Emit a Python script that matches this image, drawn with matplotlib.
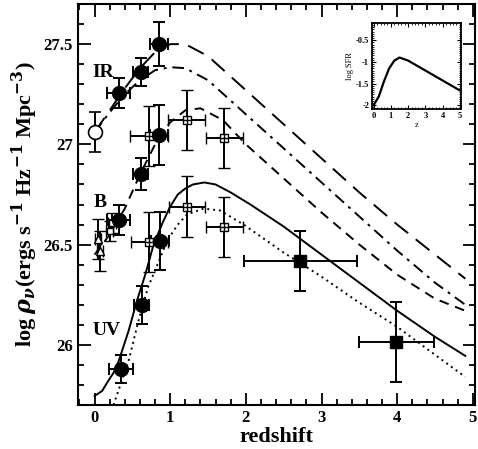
import matplotlib
matplotlib.use('Agg')
import matplotlib.pyplot as plt

plt.rcParams['font.family'] = ['Liberation Serif', 'DejaVu Serif']
plt.rcParams['font.weight'] = 'bold'
plt.rcParams['mathtext.fontset'] = 'dejavuserif'

# model curves
ir_long_x = [0, 0.2, 0.4, 0.6, 0.8, 1.0, 1.2, 1.5, 2.0, 2.5, 3.0, 3.5, 4.0, 4.5, 4.9]
ir_long_y = [27.06, 27.17, 27.28, 27.38, 27.46, 27.50, 27.50, 27.44, 27.27, 27.10, 26.93, 26.76, 26.60, 26.45, 26.33]

ir_dd_x = [0, 0.2, 0.4, 0.6, 0.8, 1.0, 1.2, 1.5, 2.0, 2.5, 3.0, 3.5, 4.0, 4.5, 4.9]
ir_dd_y = [27.06, 27.16, 27.25, 27.32, 27.37, 27.385, 27.38, 27.32, 27.15, 26.98, 26.81, 26.64, 26.47, 26.31, 26.20]

b_x = [0, 0.2, 0.4, 0.6, 0.8, 1.0, 1.2, 1.4, 1.7, 2.0, 2.5, 3.0, 3.5, 4.0, 4.5, 4.9]
b_y = [26.45, 26.55, 26.68, 26.85, 27.0, 27.11, 27.17, 27.18, 27.12, 27.0, 26.83, 26.66, 26.5, 26.35, 26.23, 26.17]

uv_x = [0, 0.1, 0.18, 0.25, 0.32, 0.45, 0.56, 0.67, 0.78, 0.9, 1.0, 1.1, 1.2, 1.3, 1.45,
        1.6, 1.8, 2.06, 2.5, 3.0, 3.5, 4.0, 4.5, 4.9]
uv_y = [25.745, 25.77, 25.82, 25.86, 25.92, 26.07, 26.22, 26.35, 26.5, 26.61, 26.69, 26.75,
        26.78, 26.80, 26.81, 26.80, 26.76, 26.70, 26.59, 26.45, 26.31, 26.17, 26.04, 25.945]

uvd_x = [0.25, 0.35, 0.45, 0.58, 0.71, 0.82, 0.96, 1.1, 1.22, 1.44, 1.66, 1.97, 2.5, 3.0,
         3.5, 4.0, 4.5, 4.9]
uvd_y = [25.70, 25.81, 25.92, 26.12, 26.29, 26.39, 26.52, 26.60, 26.65, 26.68, 26.67, 26.60,
         26.46, 26.34, 26.21, 26.09, 25.95, 25.84]

# filled circles
circ_x = [0.32, 0.61, 0.855, 0.855, 0.61, 0.32, 0.87, 0.625, 0.35]
circ_y = [27.255, 27.36, 27.50, 27.045, 26.85, 26.625, 26.52, 26.20, 25.88]
circ_yerr = [0.075, 0.07, 0.11, 0.15, 0.08, 0.075, 0.145, 0.095, 0.07]
circ_xerr = [0.15, 0.1, 0.12, 0.12, 0.1, 0.15, 0.12, 0.1, 0.16]

# open circle
oc_x = [0.0]
oc_y = [27.06]
oc_yerr = [0.1]

# open squares
sq_x = [0.72, 1.22, 1.715, 0.726, 1.22, 1.715]
sq_y = [27.04, 27.12, 27.03, 26.515, 26.69, 26.59]
sq_yerr = [0.15, 0.15, 0.15, 0.15, 0.15, 0.15]
sq_xerr = [0.25, 0.245, 0.245, 0.25, 0.24, 0.245]

# small squares / triangles near z=0
ssq_x = [0.2, 0.23]
ssq_y = [26.57, 26.61]
tri_x = [0.05, 0.07]
tri_y = [26.53, 26.47]

# filled squares
fsq_x = [2.72, 3.99]
fsq_y = [26.42, 26.015]
fsq_yerr = [0.15, 0.2]
fsq_xerr = [0.75, 0.5]

# inset
in_x = [0, 0.3, 0.6, 0.9, 1.2, 1.5, 2.0, 3.0, 4.0, 5.0]
in_y = [-2.0, -1.8, -1.45, -1.15, -0.97, -0.9, -0.97, -1.2, -1.43, -1.66]

fig = plt.figure(figsize=(4.78, 4.49), dpi=100)
ax = fig.add_axes([0.163, 0.098, 0.831, 0.893])

lw = 1.4
ax.plot(ir_long_x, ir_long_y, color='black', lw=lw, dashes=(9, 5))
ax.plot(ir_dd_x, ir_dd_y, color='black', lw=lw, dashes=(6, 3, 1.5, 3))
ax.plot(b_x, b_y, color='black', lw=lw, dashes=(5, 3.5))
ax.plot(uv_x, uv_y, color='black', lw=lw)
ax.plot(uvd_x, uvd_y, color='black', lw=lw, ls=(0, (1, 2)))

ek = dict(ecolor='black', elinewidth=1.4, capsize=4, capthick=1.4, ls='none')
ax.errorbar(sq_x, sq_y, yerr=sq_yerr, xerr=sq_xerr, fmt='s', ms=6, mfc='white',
            mec='black', mew=1.0, **ek)
ax.errorbar(sq_x, sq_y, fmt='+', ms=6, color='black', mew=1.0, ls='none')
ax.errorbar(ssq_x, ssq_y, yerr=0.05, xerr=0.05, fmt='s', ms=5, mfc='white',
            mec='black', mew=1.0, **ek)
ax.errorbar(tri_x, tri_y, yerr=0.1, xerr=0.04, fmt='^', ms=6, mfc='white',
            mec='black', mew=1.0, **ek)
ax.errorbar(circ_x, circ_y, yerr=circ_yerr, xerr=circ_xerr, fmt='o', ms=10,
            color='black', **ek)
ax.errorbar(oc_x, oc_y, yerr=oc_yerr, fmt='o', ms=10, mfc='white', mec='black',
            mew=1.2, **ek)
ax.errorbar(fsq_x, fsq_y, yerr=fsq_yerr, xerr=fsq_xerr, fmt='s', ms=8,
            color='black', **ek)

ax.text(0.11, 27.36, 'IR', fontsize=14, fontweight='bold', ha='center', va='center')
ax.text(0.07, 26.71, 'B', fontsize=14, fontweight='bold', ha='center', va='center')
ax.text(0.16, 26.07, 'UV', fontsize=14, fontweight='bold', ha='center', va='center')

ax.set_xlim(-0.22, 5.03)
ax.set_ylim(25.7, 27.7)
ax.set_xticks([0, 1, 2, 3, 4, 5])
ax.set_xticklabels(['0', '1', '2', '3', '4', '5'])
ax.set_yticks([26, 26.5, 27, 27.5])
ax.set_yticklabels(['26', '26.5', '27', '27.5'])
ax.set_xticks([i * 0.2 for i in range(-1, 26)], minor=True)
ax.set_yticks([25.7 + i * 0.1 for i in range(21)], minor=True)
ax.tick_params(which='both', direction='in', top=True, right=True, width=1.3, labelsize=12)
ax.tick_params(which='major', length=9)
ax.tick_params(which='minor', length=4.5)
for s in ax.spines.values():
    s.set_linewidth(1.5)
ax.set_xlabel('redshift', fontsize=16, fontweight='bold', labelpad=1)
ax.set_ylabel(r'log $\rho_\nu$(ergs s$^{-1}$ Hz$^{-1}$ Mpc$^{-3}$)', fontsize=16,
              fontweight='bold', labelpad=3)

ins = fig.add_axes([0.778, 0.757, 0.186, 0.192])
ins.plot(in_x, in_y, color='black', lw=1.6)
ins.set_xlim(-0.1, 5.05)
ins.set_ylim(-2.09, -0.12)
ins.set_xticks([0, 1, 2, 3, 4, 5])
ins.set_yticks([-2, -1.5, -1, -0.5])
ins.set_yticklabels(['-2', '-1.5', '-1', '-0.5'])
ins.set_xticks([i * 0.2 for i in range(26)], minor=True)
ins.set_yticks([-2.05 + i * 0.05 for i in range(40)], minor=True)
ins.tick_params(which='both', direction='in', top=True, right=True, labelsize=6, pad=2)
ins.tick_params(which='major', length=3)
ins.tick_params(which='minor', length=1.5)
for s in ins.spines.values():
    s.set_linewidth(1.3)
ins.set_xlabel('z', fontsize=6, labelpad=1)
ins.set_ylabel('log SFR', fontsize=6, labelpad=1)

fig.savefig('out.png', dpi=100)
